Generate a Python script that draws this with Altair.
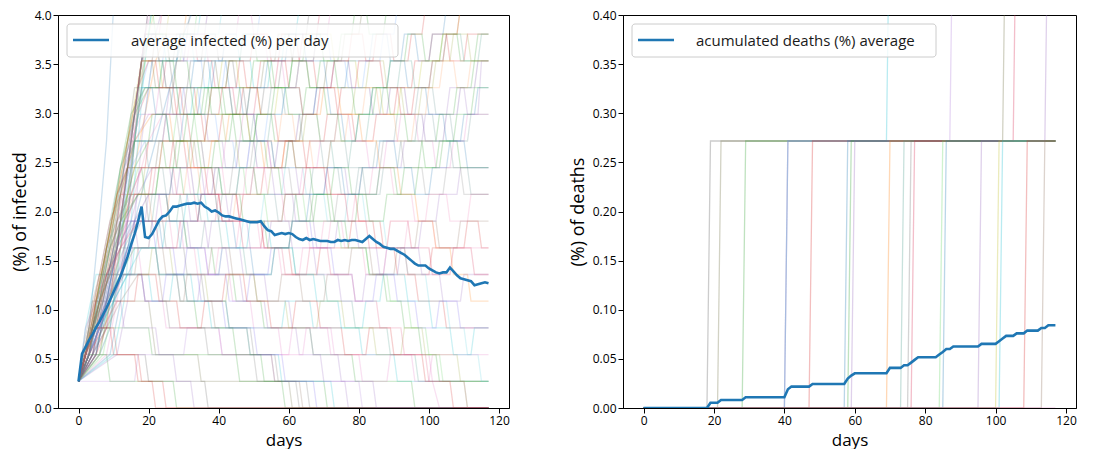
import altair as alt
import pandas as pd

# one person out of 368 -> percentage step of each simulated run
UNIT = 100 / 368

days = list(range(118))

avg_infected = [
    0.27, 0.55, 0.62, 0.69, 0.75, 0.82, 0.88, 0.95, 1.02, 1.10,
    1.18, 1.26, 1.34, 1.44, 1.54, 1.66, 1.77, 1.90, 2.05, 1.74,
    1.73, 1.77, 1.84, 1.91, 1.95, 1.96, 2.00, 2.05, 2.05, 2.06,
    2.07, 2.08, 2.08, 2.09, 2.08, 2.09, 2.05, 2.03, 2.00, 2.01,
    1.99, 1.96, 1.95, 1.95, 1.94, 1.93, 1.92, 1.91, 1.90, 1.89,
    1.89, 1.89, 1.90, 1.85, 1.81, 1.80, 1.76, 1.77, 1.78, 1.77,
    1.78, 1.77, 1.74, 1.72, 1.71, 1.73, 1.71, 1.72, 1.71, 1.70,
    1.70, 1.70, 1.69, 1.69, 1.71, 1.70, 1.71, 1.70, 1.71, 1.71,
    1.70, 1.69, 1.72, 1.75, 1.72, 1.69, 1.67, 1.64, 1.63, 1.62,
    1.62, 1.60, 1.58, 1.56, 1.53, 1.50, 1.47, 1.45, 1.45, 1.45,
    1.42, 1.40, 1.38, 1.37, 1.38, 1.38, 1.43, 1.39, 1.35, 1.32,
    1.31, 1.30, 1.29, 1.25, 1.26, 1.27, 1.28, 1.27,
]

avg_deaths = (
    [0.0] * 19 + [0.0054] * 3 + [0.0082] * 7 + [0.0109] * 12 + [0.019]
    + [0.0218] * 6 + [0.0245] * 10 + [0.030, 0.033] + [0.0353] * 10
    + [0.0408] * 4 + [0.0435] * 2 + [0.0462, 0.049] + [0.0517] * 6
    + [0.0544, 0.057, 0.060, 0.060] + [0.0626] * 8 + [0.0653] * 5
    + [0.068, 0.0707] + [0.0734] * 3 + [0.076] * 3 + [0.0788] * 4
    + [0.0815] * 2 + [0.0843] * 3
)

# individual simulation runs: "day:infected-count" vertices
infected_runs = [
    "0:1 2:2 19:2 20:1 36:1 37:0 117:0",
    "0:1 3:3 4:4 20:4 21:3 22:2 34:2 35:1 60:1 61:0 117:0",
    "0:1 2:2 3:3 20:3 21:2 45:2 46:1 70:1 71:0 117:0",
    "0:1 16:1 17:2 30:2 31:3 40:3 41:2 55:2 56:1 80:1 81:0 117:0",
    "0:1 4:2 6:3 8:4 12:5 14:6 17:6 18:5 19:4 24:4 25:3 40:3 41:2 60:2 61:3 72:3 73:2 100:2 101:1 103:0 117:0",
    "0:1 2:3 5:5 15:5 16:6 22:6 23:5 30:5 31:4 42:4 43:3 58:3 59:4 66:4 67:3 80:3 81:2 90:2 91:1 117:1",
    "0:1 3:3 6:5 9:7 12:8 20:8 21:9 26:9 27:10 32:10 33:9 38:9 39:8 45:8 46:7 52:7 53:6 60:6 61:5 68:5 69:6 77:6 78:7 84:7 85:6 90:6 91:5 96:5 97:4 104:4 105:3 117:3",
    "0:1 3:3 6:7 8:10 10:15 117:18",
    "0:1 3:2 5:4 8:6 11:8 14:9 18:9 19:8 25:8 26:7 30:7 31:6 38:6 39:5 44:5 45:4 52:4 53:3 66:3 67:2 78:2 79:1 95:1 96:0 117:0",
    "0:1 4:2 7:4 10:6 13:8 16:10 20:11 25:11 26:12 30:12 31:11 36:11 37:10 41:10 42:9 48:9 49:10 54:10 55:9 62:9 63:8 70:8 71:9 76:9 77:8 85:8 86:9 92:9 93:10 98:10 99:11 105:11 106:12 110:12 111:11 114:11 115:13 117:13",
    "0:1 2:2 6:4 9:5 12:7 16:9 19:11 22:13 25:14 30:14 31:15 117:17",
    "0:1 3:2 6:3 9:5 12:6 20:6 21:7 28:7 29:8 34:8 35:7 40:7 41:6 47:6 48:5 55:5 56:6 61:6 62:5 70:5 71:4 78:4 79:3 88:3 89:2 96:2 97:1 117:1",
    "0:1 1:2 4:4 6:5 18:5 19:4 25:4 26:3 36:3 37:2 50:2 51:1 65:1 66:0 117:0",
    "0:1 5:3 8:5 11:7 14:9 17:11 20:12 24:12 25:13 28:13 29:14 33:14 34:13 38:13 39:12 44:12 45:11 50:11 51:12 56:12 57:13 63:13 64:14 68:14 69:15 117:15",
    "0:1 2:2 4:3 6:4 9:5 13:7 17:9 22:9 23:10 27:10 28:11 33:11 34:10 40:10 41:9 47:9 48:8 53:8 54:7 58:7 59:8 64:8 65:7 74:7 75:6 82:6 83:5 88:5 89:4 94:4 95:3 99:3 100:2 103:2 104:1 110:1 111:0 117:0",
    "0:1 3:2 5:3 9:3 10:4 14:6 18:8 22:10 26:12 30:14 33:15 117:15",
    "0:1 4:3 8:5 12:6 16:7 22:7 23:8 28:8 29:9 35:9 36:8 42:8 43:7 48:7 49:6 54:6 55:7 60:7 61:6 67:6 68:5 74:5 75:4 81:4 82:5 87:5 88:6 97:6 98:7 102:7 103:8 108:8 109:9 117:9",
    "0:1 2:2 5:4 8:6 11:8 14:10 17:12 19:13 23:13 24:12 28:12 29:11 33:11 34:12 40:12 41:13 45:13 46:12 51:12 52:11 56:11 57:12 62:12 63:13 67:13 68:14 72:14 73:13 79:13 80:12 86:12 87:11 91:11 92:12 97:12 98:13 103:13 104:14 108:14 109:15 117:15",
    "0:1 3:2 6:3 10:4 14:5 20:5 21:4 26:4 27:5 32:5 33:4 37:4 38:3 48:3 49:2 57:2 58:1 72:1 73:0 117:0",
    "0:1 2:2 5:3 8:5 11:6 15:8 18:9 23:9 24:10 30:10 31:9 36:9 37:8 40:8 41:7 46:7 47:8 52:8 53:9 58:9 59:10 64:10 65:9 71:9 72:8 79:8 80:7 86:7 87:6 93:6 94:5 100:5 101:6 110:6 111:7 114:7 115:6 117:6",
    "0:1 2:2 4:3 6:4 8:5 16:5 17:6 24:6 25:5 30:5 31:4 38:4 39:3 48:3 49:2 55:2 56:1 63:1 64:0 117:0",
    "0:1 5:2 8:4 11:6 14:9 17:12 20:15 117:17",
    "0:1 2:2 5:4 9:6 12:9 16:11 20:12 27:12 28:13 31:13 32:12 37:12 38:11 44:11 45:10 50:10 51:11 55:11 56:10 61:10 62:9 66:9 67:8 71:8 72:7 76:7 77:6 82:6 83:5 87:5 88:4 92:4 93:3 97:3 98:2 102:2 103:1 117:1",
    "0:1 4:2 7:3 10:5 13:8 16:10 18:12 20:13 24:13 25:14 29:14 30:13 35:13 36:12 41:12 42:13 46:13 47:14 51:14 52:15 117:16",
    "0:1 3:2 6:3 9:4 13:6 17:8 21:9 26:9 27:8 31:8 32:7 36:7 37:6 42:6 43:5 46:5 47:4 53:4 54:3 62:3 63:2 69:2 70:1 76:1 77:0 117:0",
    "0:1 6:2 9:4 12:7 15:10 18:13 21:16 117:17",
    "0:1 3:3 6:5 9:7 12:9 15:10 19:10 20:9 24:9 25:8 29:8 30:7 34:7 35:8 39:8 40:9 44:9 45:10 49:10 50:11 54:11 55:12 58:12 59:11 63:11 64:10 69:10 70:9 74:9 75:8 79:8 80:9 84:9 85:10 90:10 91:11 96:11 97:12 101:12 102:11 106:11 107:10 111:10 112:11 117:11",
    "0:1 5:2 8:4 11:6 14:9 16:11 18:13 19:14 23:14 24:15 117:16",
    "0:1 3:2 6:3 9:4 13:5 20:5 21:6 26:6 27:5 36:5 37:4 42:4 43:5 50:5 51:4 59:4 60:3 68:3 69:4 75:4 76:3 84:3 85:2 92:2 93:3 98:3 99:2 108:2 109:1 117:1",
    "0:1 2:2 4:3 7:5 10:7 13:9 16:10 21:10 22:11 26:11 27:12 32:12 33:13 37:13 38:12 43:12 44:11 48:11 49:12 53:12 54:13 59:13 60:14 64:14 65:13 70:13 71:12 76:12 77:13 83:13 84:14 88:14 89:13 93:13 94:12 99:12 100:11 104:11 105:10 109:10 110:11 113:11 114:12 117:12",
    "0:1 4:2 8:4 12:6 16:8 20:10 24:11 29:11 30:10 35:10 36:9 41:9 42:8 47:8 48:9 53:9 54:8 58:8 59:7 65:7 66:6 71:6 72:7 78:7 79:8 83:8 84:9 89:9 90:8 95:8 96:7 101:7 102:6 117:6",
    "0:1 4:2 7:4 10:6 13:9 16:11 18:13 21:14 25:14 26:13 30:13 31:14 36:14 37:15 117:15",
    "0:1 3:2 7:3 11:5 15:6 22:6 23:7 28:7 29:6 34:6 35:5 40:5 41:6 46:6 47:7 52:7 53:8 58:8 59:9 64:9 65:8 70:8 71:7 76:7 77:8 81:8 82:7 87:7 88:6 93:6 94:5 99:5 100:4 105:4 106:3 110:3 111:2 114:2 115:1 117:1",
    "0:1 2:2 4:3 6:4 8:6 11:8 14:10 17:12 20:13 24:13 25:12 29:12 30:11 35:11 36:10 40:10 41:11 46:11 47:12 51:12 52:13 57:13 58:14 62:14 63:13 67:13 68:12 73:12 74:11 78:11 79:10 84:10 85:11 90:11 91:12 95:12 96:13 100:13 101:14 105:14 106:13 110:13 111:14 117:14",
    "0:1 2:2 5:3 8:4 12:5 16:6 22:6 23:5 28:5 29:4 33:4 34:3 44:3 45:2 52:2 53:1 58:1 59:0 117:0",
    "0:1 2:2 4:3 7:5 10:7 13:9 16:11 19:12 23:12 24:11 28:11 29:10 33:10 34:9 38:9 39:8 43:8 44:9 49:9 50:10 55:10 56:9 60:9 61:8 66:8 67:7 73:7 74:8 80:8 81:9 86:9 87:10 92:10 93:9 98:9 99:8 104:8 105:9 109:9 110:8 117:8",
    "0:1 3:2 6:4 10:7 14:10 18:13 22:15 117:16",
    "0:1 3:2 5:3 8:4 11:6 15:7 21:7 22:6 27:6 28:5 34:5 35:4 41:4 42:3 50:3 51:2 58:2 59:1 67:1 68:0 117:0",
    "0:1 2:2 5:4 8:6 12:8 16:10 21:11 26:11 27:10 31:10 32:9 37:9 38:10 42:10 43:11 48:11 49:10 52:10 53:9 58:9 59:10 63:10 64:11 69:11 70:12 74:12 75:11 80:11 81:10 85:10 86:9 91:9 92:8 96:8 97:7 101:7 102:6 106:6 107:5 111:5 112:4 117:4",
    "0:1 3:2 6:3 9:5 13:7 17:8 23:8 24:7 29:7 30:6 36:6 37:5 43:5 44:4 49:4 50:3 57:3 58:2 64:2 65:3 71:3 72:2 80:2 81:1 88:1 89:2 95:2 96:1 100:1 101:2 117:2",
    "0:1 6:2 9:4 12:6 14:9 16:11 18:13 20:14 24:14 25:13 28:13 29:14 34:14 35:15 117:16",
    "0:1 4:2 8:3 12:5 16:7 20:8 26:8 27:9 32:9 33:8 38:8 39:9 45:9 46:10 50:10 51:9 56:9 57:10 62:10 63:11 67:11 68:12 72:12 73:13 77:13 78:12 83:12 84:11 88:11 89:12 93:12 94:11 98:11 99:10 104:10 105:11 108:11 109:12 113:12 114:13 117:13",
    "0:1 2:2 5:3 10:3 11:2 17:2 18:1 24:1 25:0 117:0",
    "0:1 3:2 8:2 9:1 27:1 28:0 117:0",
    "0:1 2:3 5:4 12:4 13:3 22:3 23:2 27:2 28:1 32:1 33:0 117:0",
    "0:1 5:2 8:4 11:6 13:8 15:10 17:12 18:13 19:14 22:14 23:13 26:13 27:12 31:12 32:13 35:13 36:14 39:14 40:13 44:13 45:12 47:12 48:11 52:11 53:12 57:12 58:13 61:13 62:14 65:14 66:15 117:15",
    "0:1 5:2 8:4 11:6 14:8 16:10 18:12 21:12 22:11 25:11 26:10 29:10 30:11 34:11 35:12 38:12 39:13 42:13 43:12 46:12 47:11 50:11 51:10 55:10 56:9 59:9 60:10 63:10 64:11 67:11 68:12 71:12 72:11 75:11 76:10 79:10 80:11 83:11 84:12 88:12 89:13 92:13 93:14 96:14 97:13 100:13 101:14 104:14 105:15 117:15",
    "0:1 7:2 10:4 12:6 14:8 16:10 18:12 20:14 21:15 22:14 25:14 26:13 29:13 30:14 33:14 34:15 117:16",
    "0:1 3:2 6:4 9:6 12:8 15:10 18:11 22:11 23:12 27:12 28:13 31:13 32:14 36:14 37:13 41:13 42:14 45:14 46:15 49:15 50:14 53:14 54:13 58:13 59:12 62:12 63:13 67:13 68:14 71:14 72:15 117:16",
    "0:1 2:2 5:3 8:5 11:7 14:8 18:8 19:9 23:9 24:10 27:10 28:9 32:9 33:10 36:10 37:11 41:11 42:10 45:10 46:9 50:9 51:8 54:8 55:9 59:9 60:10 64:10 65:11 68:11 69:10 73:10 74:11 78:11 79:12 82:12 83:13 87:13 88:12 92:12 93:11 97:11 98:12 101:12 102:13 106:13 107:14 111:14 112:13 117:13",
    "0:1 6:2 9:3 12:5 14:7 16:10 18:12 19:14 22:14 23:13 27:13 28:14 31:14 32:15 117:15",
    "0:1 3:2 5:4 8:6 11:8 14:9 19:9 20:10 24:10 25:11 28:11 29:12 33:12 34:11 37:11 38:12 42:12 43:13 47:13 48:12 51:12 52:11 56:11 57:10 61:10 62:9 65:9 66:10 70:10 71:11 74:11 75:12 79:12 80:13 84:13 85:14 89:14 90:13 94:13 95:14 98:14 99:15 117:15",
    "0:1 8:2 11:4 13:6 15:9 17:12 19:14 21:15 117:17",
    "0:1 4:2 7:3 10:5 13:6 17:7 21:7 22:8 26:8 27:9 31:9 32:10 35:10 36:9 40:9 41:8 45:8 46:9 50:9 51:10 54:10 55:11 58:11 59:12 63:12 64:11 68:11 69:10 72:10 73:9 77:9 78:10 82:10 83:11 86:11 87:12 91:12 92:13 95:13 96:12 100:12 101:13 104:13 105:14 109:14 110:13 114:13 115:14 117:14",
    "0:1 5:2 8:4 11:6 13:8 15:10 17:12 20:12 21:13 24:13 25:12 28:12 29:11 32:11 33:12 37:12 38:13 41:13 42:14 45:14 46:13 49:13 50:12 54:12 55:13 58:13 59:14 62:14 63:15 117:15",
    "0:1 3:3 6:5 9:6 12:7 16:8 20:8 21:7 25:7 26:8 30:8 31:9 34:9 35:8 39:8 40:7 44:7 45:8 49:8 50:9 53:9 54:10 57:10 58:11 61:11 62:10 66:10 67:9 71:9 72:10 76:10 77:11 81:11 82:12 85:12 86:11 90:11 91:10 95:10 96:11 99:11 100:12 103:12 104:13 107:13 108:12 111:12 112:13 117:13",
    "0:1 6:2 9:3 11:5 13:7 15:9 17:11 19:11 20:12 23:12 24:13 28:13 29:14 32:14 33:13 36:13 37:14 40:14 41:15 117:16",
    "0:1 3:2 6:3 9:4 12:6 15:8 18:9 22:9 23:10 27:10 28:9 31:9 32:8 36:8 37:9 41:9 42:10 46:10 47:11 50:11 51:10 54:10 55:9 58:9 59:8 63:8 64:9 68:9 69:10 73:10 74:11 77:11 78:10 82:10 83:9 87:9 88:10 91:10 92:11 96:11 97:10 101:10 102:9 106:9 107:10 110:10 111:11 117:11",
    "0:1 4:2 7:4 10:6 12:8 14:10 16:12 17:12 18:13 21:13 22:12 26:12 27:11 30:11 31:12 35:12 36:13 39:13 40:12 43:12 44:11 48:11 49:12 52:12 53:13 56:13 57:14 60:14 61:13 65:13 66:12 70:12 71:13 75:13 76:14 80:14 81:15 117:15",
    "0:1 3:2 6:4 9:5 12:7 16:9 20:10 24:10 25:9 29:9 30:8 34:8 35:9 38:9 39:10 43:10 44:11 48:11 49:10 53:10 54:9 57:9 58:8 62:8 63:7 67:7 68:8 72:8 73:9 77:9 78:8 82:8 83:7 87:7 88:8 92:8 93:9 97:9 98:10 102:10 103:11 107:11 108:12 112:12 113:13 117:13",
    "0:1 9:2 12:4 14:7 16:10 18:13 20:15 117:17",
    "0:1 4:3 8:6 12:9 15:11 19:12 23:12 24:13 27:13 28:12 32:12 33:11 37:11 38:12 42:12 43:13 46:13 47:14 50:14 51:13 55:13 56:12 60:12 61:13 64:13 65:14 69:14 70:13 74:13 75:14 78:14 79:15 82:15 83:14 87:14 88:15 117:15",
    "0:1 2:2 5:3 8:4 11:5 14:6 18:7 23:7 24:6 29:6 30:7 34:7 35:8 39:8 40:7 44:7 45:6 49:6 50:5 55:5 56:6 60:6 61:7 65:7 66:8 70:8 71:9 75:9 76:8 80:8 81:9 85:9 86:10 90:10 91:9 95:9 96:8 100:8 101:9 105:9 106:10 110:10 111:9 117:9",
    "0:1 6:2 9:4 12:6 14:8 16:10 18:13 21:13 22:14 25:14 26:15 117:16",
    "0:1 2:2 4:3 6:4 9:6 12:8 16:10 20:10 21:11 25:11 26:10 30:10 31:11 35:11 36:12 40:12 41:11 45:11 46:12 49:12 50:13 54:13 55:12 59:12 60:11 64:11 65:12 68:12 69:13 73:13 74:12 78:12 79:11 83:11 84:12 88:12 89:13 93:13 94:14 98:14 99:13 103:13 104:14 108:14 109:13 113:13 114:14 117:14",
    "0:1 3:2 6:3 10:4 14:5 18:6 24:6 25:7 30:7 31:8 36:8 37:7 42:7 43:6 48:6 49:7 54:7 55:6 61:6 62:5 67:5 68:4 74:4 75:3 81:3 82:4 86:4 87:5 93:5 94:4 100:4 101:3 106:3 107:2 112:2 113:3 117:3",
    "0:1 2:2 5:4 8:6 11:7 15:8 19:8 20:7 24:7 25:6 30:6 31:5 35:5 36:4 42:4 43:3 49:3 50:2 56:2 57:1 62:1 63:0 117:0",
    "0:1 5:2 8:3 10:5 12:7 14:9 16:11 18:13 22:13 23:12 27:12 28:11 31:11 32:10 36:10 37:11 40:11 41:12 45:12 46:13 49:13 50:14 54:14 55:13 59:13 60:12 63:12 64:11 68:11 69:12 72:12 73:13 77:13 78:14 81:14 82:13 86:13 87:12 91:12 92:11 95:11 96:12 100:12 101:13 104:13 105:14 108:14 109:15 117:15",
    "0:1 3:2 5:3 8:5 11:6 15:7 20:7 21:8 25:8 26:7 30:7 31:6 35:6 36:7 40:7 41:8 45:8 46:9 50:9 51:8 56:8 57:7 61:7 62:8 66:8 67:9 71:9 72:10 76:10 77:9 81:9 82:8 86:8 87:9 91:9 92:10 96:10 97:11 101:11 102:10 106:10 107:9 111:9 112:8 117:8",
    "0:1 2:2 5:3 9:3 10:2 16:2 17:1 21:1 22:0 117:0",
    "0:1 10:2 13:4 15:7 17:10 19:13 21:15 117:18",
    "0:1 2:2 4:3 7:4 10:6 13:7 17:8 22:8 23:9 27:9 28:10 32:10 33:11 36:11 37:12 41:12 42:11 46:11 47:10 50:10 51:11 55:11 56:12 60:12 61:13 65:13 66:12 70:12 71:11 74:11 75:10 79:10 80:11 84:11 85:12 88:12 89:11 93:11 94:10 98:10 99:9 103:9 104:10 107:10 108:11 112:11 113:12 117:12",
    "0:1 3:2 6:4 9:6 12:7 16:7 17:6 22:6 23:5 28:5 29:4 34:4 35:5 40:5 41:6 46:6 47:5 53:5 54:4 60:4 61:3 66:3 67:2 74:2 75:1 84:1 85:0 117:0",
    "0:1 11:2 14:4 16:7 18:10 20:12 22:14 24:15 117:17",
    "0:1 3:2 6:3 9:5 12:7 15:9 19:10 24:10 25:11 29:11 30:12 34:12 35:11 39:11 40:10 44:10 45:9 48:9 49:10 53:10 54:11 58:11 59:12 62:12 63:13 67:13 68:14 71:14 72:13 76:13 77:12 81:12 82:13 86:13 87:14 90:14 91:15 117:15",
    "0:1 2:2 5:3 8:4 11:5 15:6 20:6 21:7 26:7 27:6 33:6 34:5 39:5 40:6 45:6 46:7 51:7 52:6 57:6 58:5 63:5 64:6 69:6 70:7 75:7 76:6 81:6 82:5 87:5 88:6 93:6 94:7 99:7 100:8 105:8 106:7 111:7 112:8 117:8",
    "0:1 3:2 6:3 9:4 13:5 18:5 19:4 24:4 25:5 30:5 31:6 36:6 37:5 42:5 43:4 48:4 49:5 54:5 55:6 60:6 61:7 66:7 67:6 72:6 73:5 78:5 79:4 84:4 85:5 90:5 91:4 96:4 97:3 102:3 103:4 108:4 109:3 117:3",
    "0:1 2:2 4:3 7:4 10:6 14:7 19:7 20:8 25:8 26:7 31:7 32:6 37:6 38:7 43:7 44:8 49:8 50:9 55:9 56:8 61:8 62:7 67:7 68:6 73:6 74:7 79:7 80:6 85:6 86:5 91:5 92:6 97:6 98:5 103:5 104:4 109:4 110:5 117:5",
    "0:1 3:2 7:3 11:4 16:4 17:5 22:5 23:4 28:4 29:3 35:3 36:4 41:4 42:5 47:5 48:4 54:4 55:3 61:3 62:4 68:4 69:3 75:3 76:2 82:2 83:3 89:3 90:2 98:2 99:1 106:1 107:0 117:0",
    "0:1 2:2 5:4 8:5 12:6 17:7 22:7 23:6 28:6 29:7 34:7 35:8 40:8 41:7 46:7 47:6 52:6 53:7 58:7 59:8 64:8 65:9 70:9 71:8 76:8 77:7 82:7 83:6 88:6 89:7 94:7 95:6 100:6 101:5 106:5 107:6 112:6 113:5 117:5",
    "0:1 4:2 8:3 12:4 17:5 23:5 24:4 30:4 31:5 37:5 38:6 43:6 44:5 50:5 51:4 57:4 58:5 63:5 64:4 70:4 71:5 77:5 78:6 83:6 84:5 90:5 91:6 96:6 97:7 102:7 103:6 108:6 109:7 117:7",
    "0:1 2:2 4:3 6:4 9:5 12:6 16:8 21:8 22:9 27:9 28:8 33:8 34:7 39:7 40:8 45:8 46:7 52:7 53:6 58:6 59:5 65:5 66:6 71:6 72:5 78:5 79:4 85:4 86:3 92:3 93:2 99:2 100:1 110:1 111:0 117:0",
    "0:1 3:2 6:4 9:6 12:7 17:8 22:8 23:9 28:9 29:10 34:10 35:9 40:9 41:8 46:8 47:7 53:7 54:6 60:6 61:7 66:7 67:8 72:8 73:7 79:7 80:8 85:8 86:9 90:9 91:8 96:8 97:9 102:9 103:10 108:10 109:9 117:9",
]

palette = [
    "#555555", "#6b6b3a", "#2ca02c", "#b07fd9", "#e377c2", "#17becf",
    "#d62728", "#1f77b4", "#2ca02c", "#9467bd", "#ff7f0e", "#4a9a8a",
    "#6f6f6f", "#d62750", "#5fd35f", "#1f77b4", "#9467bd", "#bcbd22",
    "#17becf", "#d62728", "#8c6d5a", "#e377c2", "#2ca02c", "#6fa8ff",
    "#9467bd", "#ffa060", "#5f8f8f", "#e0507a", "#9aa83a", "#1f77b4",
    "#f080b4", "#7b3fa0", "#5fd0e0", "#d62728", "#2ca02c", "#7f7f7f",
    "#c8c84a", "#7b68ee", "#ff7f0e", "#e377c2", "#17becf", "#6a3d9a",
    "#d62728", "#2ca02c", "#9467bd",
]
infected_colors = [palette[i] if i < len(palette)
                   else palette[(i * 7) % len(palette)]
                   for i in range(len(infected_runs))]

# death days of each simulated run (one person each)
death_runs = [
    [18], [21, 102], [28], [40, 87], [40], [40, 69], [47], [57], [58],
    [59], [69], [73], [75], [76, 105], [84], [85], [95, 114], [100],
    [101], [108], [113], [],
]
death_colors = [
    "#bcbd22", "#e377c2", "#9467bd", "#6a3d9a", "#8c564b", "#7f5f9f",
    "#c5b0d5", "#9467bd", "#ff7f0e", "#ffa040", "#a0a060", "#e377c2",
    "#f06090", "#6fa8ff", "#9467bd", "#f080a0", "#d62728", "#5f7f8f",
    "#f07090", "#d64050", "#8f8f8f", "#444444",
]

# ---------- tables ----------
rows = []
for i, s in enumerate(infected_runs):
    for tok in s.split():
        d, lvl = tok.split(":")
        rows.append({"run": f"r{i:02d}", "day": int(d), "pct": int(lvl) * UNIT})
inf_df = pd.DataFrame(rows)

drows = []
for i, dd in enumerate(death_runs):
    for d in days:
        drows.append({"run": f"d{i:02d}", "day": d,
                      "pct": sum(1 for x in dd if x < d) * UNIT})
death_df = pd.DataFrame(drows)

avg_inf_df = pd.DataFrame({"day": days, "pct": avg_infected})
avg_death_df = pd.DataFrame({"day": days, "pct": avg_deaths})
one = pd.DataFrame({"k": [0]})

FONT = "Open Sans"
W, H = 451, 393
x_scale = alt.Scale(domain=[-5.85, 122.85], nice=False, zero=False)
x_axis = alt.Axis(values=[0, 20, 40, 60, 80, 100, 120], title="days",
                  titlePadding=6, titleFontSize=17)


def panel(runs_df, run_ids, colors, avg_df, ymax, ystep, yfmt, ytitle,
          legend_text, box_w, op):
    y_scale = alt.Scale(domain=[0, ymax], nice=False, zero=True)
    nvals = int(round(ymax / ystep)) + 1
    y_axis = alt.Axis(values=[round(ystep * k, 4) for k in range(nvals)],
                      format=yfmt, title=ytitle, titlePadding=5)
    runs = alt.Chart(runs_df).mark_line(
        clip=True, strokeWidth=1.3, opacity=op
    ).encode(
        x=alt.X("day:Q", scale=x_scale, axis=x_axis),
        y=alt.Y("pct:Q", scale=y_scale, axis=y_axis),
        color=alt.Color("run:N", scale=alt.Scale(domain=run_ids, range=colors),
                        legend=None),
        detail="run:N",
    )
    avg = alt.Chart(avg_df).mark_line(
        clip=True, strokeWidth=2.6, color="#1f77b4"
    ).encode(x="day:Q", y="pct:Q")
    box = alt.Chart(one).mark_rect(
        fill="white", fillOpacity=0.8, stroke="#cccccc", strokeWidth=1,
        cornerRadius=3
    ).encode(x=alt.value(9), x2=alt.value(9 + box_w),
             y=alt.value(9), y2=alt.value(42))
    sample = alt.Chart(one).mark_rule(color="#1f77b4", strokeWidth=2.6).encode(
        x=alt.value(15), x2=alt.value(51), y=alt.value(25))
    label = alt.Chart(one).mark_text(
        align="left", baseline="middle", fontSize=15, font=FONT,
        color="#1a1a1a", text=legend_text
    ).encode(x=alt.value(73), y=alt.value(25.5))
    return alt.layer(runs, avg, box, sample, label).properties(width=W, height=H)


left = panel(inf_df, [f"r{i:02d}" for i in range(len(infected_runs))],
             infected_colors, avg_inf_df, 4.0, 0.5, ".1f", "(%) of infected",
             "average infected (%) per day", 331, 0.22)
right = panel(death_df, [f"d{i:02d}" for i in range(len(death_runs))],
              death_colors, avg_death_df, 0.4, 0.05, ".2f", "(%) of deaths",
              "acumulated deaths (%) average", 304, 0.3).properties(width=453)

chart = alt.hconcat(left, right, spacing=58).properties(
    padding={"left": 2, "top": 0, "right": 0, "bottom": 0},
    background="white",
).configure_view(
    stroke="black", strokeWidth=1
).configure_axis(
    labelFont=FONT, labelFontSize=12, labelColor="black",
    titleFont=FONT, titleFontSize=18, titleFontWeight="normal",
    titleColor="black", domainColor="black", tickColor="black",
    tickSize=5, labelPadding=2, grid=False,
)

chart.save("out.html", embed_options={"renderer": "svg", "actions": False})
